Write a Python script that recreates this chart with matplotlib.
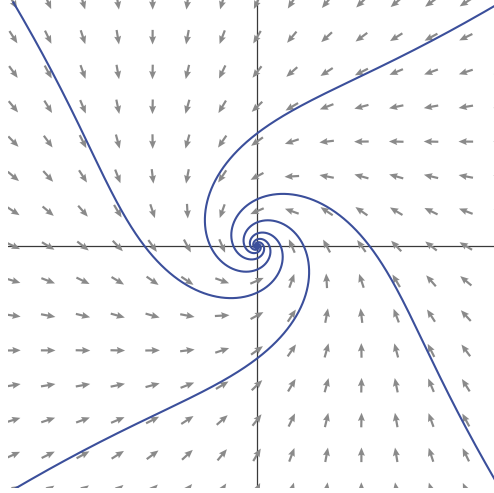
import numpy as np
import matplotlib
matplotlib.use("Agg")
import matplotlib.pyplot as plt

# Field: x' = -y - k(r) x,  y' = x - k(r) y,  with k(r) = k0 + k2 r^2
k0 = 0.4
k2 = 0.035

# grid of direction-field arrows
grid_x = list(range(-7, 8))
grid_y = list(range(-7, 8))

# starting points of the drawn solution curves
starts_x = [7, -7, -7, 7]
starts_y = [7, 7, -7, -7]

t_end = 35.0
dt = 0.005


def field(x, y):
    k = k0 + k2 * (x * x + y * y)
    return -y - k * x, x - k * y


def rk4(x, y):
    xs, ys = [x], [y]
    for _ in range(int(t_end / dt)):
        a1, b1 = field(x, y)
        a2, b2 = field(x + dt / 2 * a1, y + dt / 2 * b1)
        a3, b3 = field(x + dt / 2 * a2, y + dt / 2 * b2)
        a4, b4 = field(x + dt * a3, y + dt * b3)
        x = x + dt / 6 * (a1 + 2 * a2 + 2 * a3 + a4)
        y = y + dt / 6 * (b1 + 2 * b2 + 2 * b3 + b4)
        xs.append(x)
        ys.append(y)
    return np.array(xs), np.array(ys)


fig = plt.figure(figsize=(4.94, 4.93), dpi=100)
ax = fig.add_axes([8 / 494, 5 / 493, 486 / 494, 488 / 493])
ax.set_xlim(-7.155, 6.81)
ax.set_ylim(-6.954, 7.069)
ax.axis("off")

ax.axhline(0, color="#3a3a3a", lw=0.9, zorder=1)
ax.axvline(0, color="#3a3a3a", lw=0.9, zorder=1)

X, Y = np.meshgrid(np.array(grid_x, float), np.array(grid_y, float))
U, V = field(X, Y)
norm = np.hypot(U, V)
norm[norm == 0] = np.nan
alen = 0.42
ax.quiver(X, Y, U / norm * alen, V / norm * alen, angles="xy",
          scale_units="xy", scale=1, pivot="mid", color="#8a8a8a",
          width=0.0045, headwidth=3.2, headlength=3.8, headaxislength=3.4,
          zorder=2)

for x0, y0 in zip(starts_x, starts_y):
    xs, ys = rk4(float(x0), float(y0))
    ax.plot(xs, ys, color="#3b4f9b", lw=1.5, zorder=3)

fig.savefig("out.png", dpi=100)
